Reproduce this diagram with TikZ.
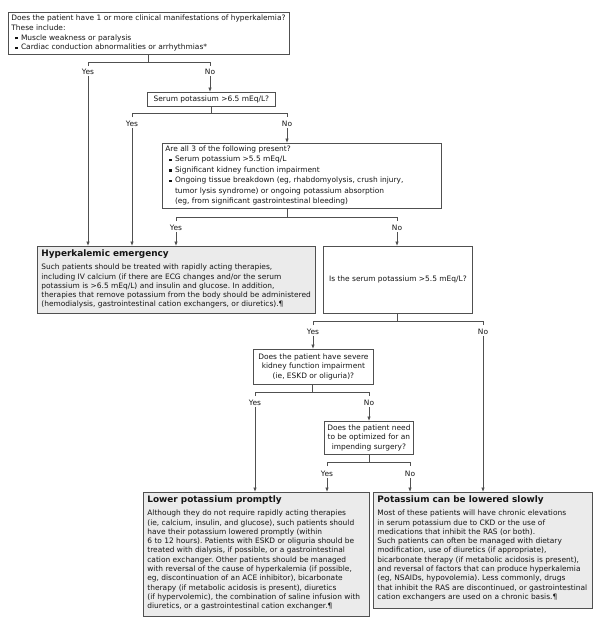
\documentclass[tikz,border=0pt]{standalone}
\usepackage{fontspec}
\setmainfont{DejaVu Sans}
\usetikzlibrary{arrows.meta}
\frenchspacing
\definecolor{lineC}{HTML}{505050}
\definecolor{boxfill}{HTML}{EBEBEB}
\definecolor{txt}{HTML}{151515}
\newcommand{\fs}{\fontsize{7.45}{9.3}\selectfont}
\newcommand{\fq}{\fontsize{7.45}{9.8}\selectfont}
\newcommand{\ttl}{\fontsize{8.9}{10}\selectfont\bfseries}
\newcommand{\bul}{\hspace*{4pt}\rule[0.8pt]{2.4pt}{2.4pt}\hspace{3.2pt}}
\newcommand{\cnt}{\hspace*{9.6pt}}
\tikzset{
  qbox/.style={draw=lineC, fill=white, line width=0.8pt, anchor=north west, text=txt, font=\fq, inner xsep=3pt, inner ysep=2.5pt},
  cbox/.style={qbox, align=center, inner sep=0pt},
  ebox/.style={qbox, fill=boxfill, inner xsep=4pt, inner ysep=3pt},
  lbl/.style={text=txt, font=\fs, inner sep=1pt},
  ln/.style={draw=lineC, line width=0.8pt},
  arr/.style={ln, -{Latex[length=4.5pt,width=3.6pt]}}
}
\begin{document}
\begin{tikzpicture}[x=1pt,y=-1pt]
\useasboundingbox (0,0) rectangle (600,621);
% boxes
\node[qbox] (q1) at (8,12)
 {\parbox[c][37pt][t]{275pt}{\raggedright\fq Does the patient have 1 or more clinical manifestations of hyperkalemia?\\These include:\\\bul Muscle weakness or paralysis\\\bul Cardiac conduction abnormalities or arrhythmias*}};
\node[cbox, minimum width=128, minimum height=14] (q2) at (147,92) {Serum potassium >6.5 mEq/L?};
\node[qbox] (q3) at (162,143)
 {\parbox[c][60pt][t]{273pt}{\raggedright\fontsize{7.45}{10.4}\selectfont Are all 3 of the following present?\\\bul Serum potassium >5.5 mEq/L\\\bul Significant kidney function impairment\\\bul Ongoing tissue breakdown (eg, rhabdomyolysis, crush injury,\\\cnt tumor lysis syndrome) or ongoing potassium absorption\\\cnt (eg, from significant gastrointestinal bleeding)}};
\node[ebox] (hk) at (37,246)
 {\parbox[c][61pt][t]{270pt}{\raggedright{\ttl Hyperkalemic emergency}\par\vspace{4.3pt}\fs Such patients should be treated with rapidly acting therapies,\\including IV calcium (if there are ECG changes and/or the serum\\potassium is >6.5 mEq/L) and insulin and glucose. In addition,\\therapies that remove potassium from the body should be administered\\(hemodialysis, gastrointestinal cation exchangers, or diuretics).¶}};
\node[cbox, minimum width=149, minimum height=67] (q4) at (323,246) {Is the serum potassium >5.5 mEq/L?};
\node[cbox, minimum width=120, minimum height=35] (q5) at (253,349) {Does the patient have severe\\kidney function impairment\\(ie, ESKD or oliguria)?};
\node[cbox, minimum width=89, minimum height=33] (q6) at (324,421) {Does the patient need\\to be optimized for an\\impending surgery?};
\node[ebox] (lp) at (143,492)
 {\parbox[c][118pt][t]{218pt}{\raggedright{\ttl Lower potassium promptly}\par\vspace{4.3pt}\fs Although they do not require rapidly acting therapies\\(ie, calcium, insulin, and glucose), such patients should\\have their potassium lowered promptly (within\\6 to 12 hours). Patients with ESKD or oliguria should be\\treated with dialysis, if possible, or a gastrointestinal\\cation exchanger. Other patients should be managed\\with reversal of the cause of hyperkalemia (if possible,\\eg, discontinuation of an ACE inhibitor), bicarbonate\\therapy (if metabolic acidosis is present), diuretics\\(if hypervolemic), the combination of saline infusion with\\diuretics, or a gastrointestinal cation exchanger.¶}};
\node[ebox] (ls) at (373,492)
 {\parbox[c][110pt][t]{211pt}{\raggedright{\ttl Potassium can be lowered slowly}\par\vspace{4.3pt}\fs Most of these patients will have chronic elevations\\in serum potassium due to CKD or the use of\\medications that inhibit the RAS (or both).\\Such patients can often be managed with dietary\\modification, use of diuretics (if appropriate),\\bicarbonate therapy (if metabolic acidosis is present),\\and reversal of factors that can produce hyperkalemia\\(eg, NSAIDs, hypovolemia). Less commonly, drugs\\that inhibit the RAS are discontinued, or gastrointestinal\\cation exchangers are used on a chronic basis.¶}};
% branch 1
\coordinate (s1) at (148,62); \coordinate (y1) at (88,62); \coordinate (n1) at (210,62);
\draw[ln] (q1.south -| s1) -- (s1) (y1) ++(0,4) -- (y1) -- (n1) -- ++(0,4);
\node[lbl] (ly1) at (88,72) {Yes}; \node[lbl] (ln1) at (210,72) {No};
\draw[arr] (ly1.south) -- (hk.north -| ly1);
\draw[arr] (ln1.south) -- (q2.north -| ln1);
% branch 2
\coordinate (s2) at (211,113); \coordinate (y2) at (132,113); \coordinate (n2) at (287,113);
\draw[ln] (q2.south -| s2) -- (s2) (y2) ++(0,4) -- (y2) -- (n2) -- ++(0,4);
\node[lbl] (ly2) at (132,124) {Yes}; \node[lbl] (ln2) at (287,124) {No};
\draw[arr] (ly2.south) -- (hk.north -| ly2);
\draw[arr] (ln2.south) -- (q3.north -| ln2);
% branch 3
\coordinate (s3) at (287,217); \coordinate (y3) at (176,217); \coordinate (n3) at (397,217);
\draw[ln] (q3.south -| s3) -- (s3) (y3) ++(0,4) -- (y3) -- (n3) -- ++(0,4);
\node[lbl] (ly3) at (176,228) {Yes}; \node[lbl] (ln3) at (397,228) {No};
\draw[arr] (ly3.south) -- (hk.north -| ly3);
\draw[arr] (ln3.south) -- (q4.north -| ln3);
% branch 4
\coordinate (s4) at (397,321); \coordinate (y4) at (313,321); \coordinate (n4) at (483,321);
\draw[ln] (q4.south -| s4) -- (s4) (y4) ++(0,4) -- (y4) -- (n4) -- ++(0,4);
\node[lbl] (ly4) at (313,332) {Yes}; \node[lbl] (ln4) at (483,332) {No};
\draw[arr] (ly4.south) -- (q5.north -| ly4);
\draw[arr] (ln4.south) -- (ls.north -| ln4);
% branch 5
\coordinate (s5) at (312,392); \coordinate (y5) at (255,392); \coordinate (n5) at (369,392);
\draw[ln] (q5.south -| s5) -- (s5) (y5) ++(0,4) -- (y5) -- (n5) -- ++(0,4);
\node[lbl] (ly5) at (255,403) {Yes}; \node[lbl] (ln5) at (369,403) {No};
\draw[arr] (ly5.south) -- (lp.north -| ly5);
\draw[arr] (ln5.south) -- (q6.north -| ln5);
% branch 6
\coordinate (s6) at (369,462); \coordinate (y6) at (327,462); \coordinate (n6) at (410,462);
\draw[ln] (q6.south -| s6) -- (s6) (y6) ++(0,4) -- (y6) -- (n6) -- ++(0,4);
\node[lbl] (ly6) at (327,474) {Yes}; \node[lbl] (ln6) at (410,474) {No};
\draw[arr] (ly6.south) -- (lp.north -| ly6);
\draw[arr] (ln6.south) -- (ls.north -| ln6);
\end{tikzpicture}
\end{document}
